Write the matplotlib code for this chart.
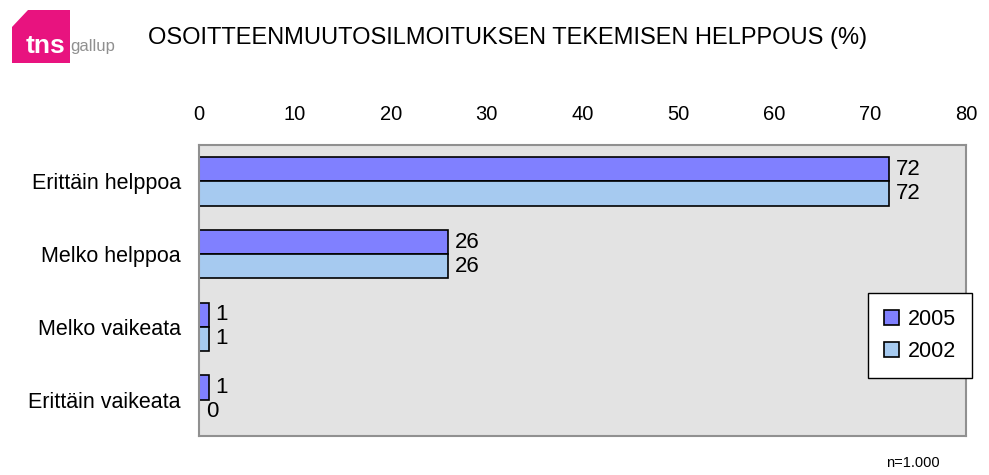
import matplotlib.pyplot as plt
import numpy as np
from matplotlib.patches import Polygon

plt.rcParams['font.family'] = ['Liberation Sans', 'DejaVu Sans']

categories = ['Erittäin helppoa', 'Melko helppoa', 'Melko vaikeata', 'Erittäin vaikeata']
values_2005 = [72, 26, 1, 1]
values_2002 = [72, 26, 1, 0]
series_names = ['2005', '2002']
ticks = [0, 10, 20, 30, 40, 50, 60, 70, 80]

col_2005 = '#8080FF'
col_2002 = '#A6CAF0'

fig = plt.figure(figsize=(9.89, 4.75), dpi=100)
ax = fig.add_axes([0.2012, 0.0821, 0.7755, 0.6126])
ax.set_facecolor('#E3E3E3')

y = np.arange(len(categories))
h = 0.333
b1 = ax.barh(y - h / 2, values_2005, height=h, color=col_2005, edgecolor='black', linewidth=1.2, label=series_names[0])
b2 = ax.barh(y + h / 2, values_2002, height=h, color=col_2002, edgecolor='black', linewidth=1.2, label=series_names[1])

for bars, vals in [(b1, values_2005), (b2, values_2002)]:
    for bar, v in zip(bars, vals):
        ax.text(v + 0.7, bar.get_y() + bar.get_height() / 2, str(v), va='center', ha='left', fontsize=16)

ax.set_xlim(0, 80)
ax.set_ylim(len(categories) - 0.5, -0.5)
ax.set_xticks(ticks)
ax.xaxis.tick_top()
ax.tick_params(axis='x', length=0, pad=15, labelsize=14.5)
ax.set_yticks(y)
ax.set_yticklabels(categories, fontsize=15.5)
ax.tick_params(axis='y', length=0, pad=13)
for s in ax.spines.values():
    s.set_color('#909090')
    s.set_linewidth(1.5)

leg = ax.legend(loc='lower right', bbox_to_anchor=(1.008, 0.2), fontsize=15.5, frameon=True, fancybox=False,
                handlelength=0.7, handleheight=0.7, handletextpad=0.4, borderpad=0.75, labelspacing=0.5,
                borderaxespad=0, framealpha=1)
leg.get_frame().set_edgecolor('black')
leg.get_frame().set_linewidth(1)

# logo
W, H = 989, 475
pts = [(12, 27), (28, 10), (70, 10), (70, 63), (12, 63)]
logo = Polygon([(px / W, 1 - py / H) for px, py in pts], closed=True,
               transform=fig.transFigure, facecolor='#E8137F', edgecolor='none')
fig.patches.append(logo)
fig.text(26 / W, 1 - 46 / H, 'tns', color='white', fontsize=19, fontweight='bold', va='center', ha='left')
fig.text(70 / W, 1 - 46 / H, 'gallup', color='#909090', fontsize=12, va='center', ha='left')

fig.text(148 / W, 1 - 38 / H, 'OSOITTEENMUUTOSILMOITUKSEN TEKEMISEN HELPPOUS (%)', fontsize=17, va='center', ha='left')
fig.text(940 / W, 1 - 463 / H, 'n=1.000', fontsize=10.5, va='center', ha='right')

fig.savefig('out.png', dpi=100)
